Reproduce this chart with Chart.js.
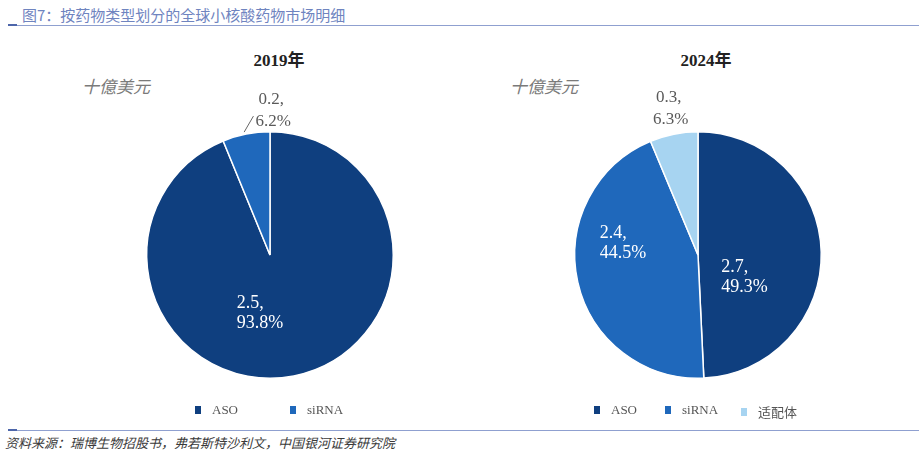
<!DOCTYPE html>
<html><head><meta charset="utf-8">
<script src="https://cdn.jsdelivr.net/npm/chart.js@4"></script>
<style>
html,body{margin:0;padding:0;background:#fff;width:919px;height:455px;overflow:hidden;position:relative;font-family:"Noto Sans CJK SC","Noto Sans",sans-serif;}
.abs{position:absolute;white-space:nowrap;}
#title{left:22px;top:4px;font-size:15px;color:#6f84bf;}
.rule{position:absolute;left:8px;width:911px;height:1px;background:#8fa0d0;}
.tick{position:absolute;left:8px;width:9px;height:2px;background:#4d66aa;}
#footer{left:5px;top:433px;font-size:13px;color:#3a3a3a;font-style:italic;}
.year{font-family:"Liberation Serif","Noto Sans CJK SC",serif;font-weight:bold;font-size:17px;color:#222;transform:translateX(-50%);}
.unit{font-family:"Liberation Serif","Noto Sans CJK TC",serif;font-style:italic;font-size:17px;color:#7a7a7a;}
.leg{position:absolute;font-family:"Liberation Serif","Noto Sans CJK SC",serif;font-size:13px;color:#555;display:flex;align-items:center;}
.leg i{display:inline-block;width:6px;height:8px;margin-right:11px;}
canvas{position:absolute;top:0;}
</style></head>
<body>
<div id="title" class="abs">图7：按药物类型划分的全球小核酸药物市场明细</div>
<div class="rule" style="top:25px"></div><div class="tick" style="top:24px"></div>
<div class="rule" style="top:430px"></div><div class="tick" style="top:429px"></div>
<div id="footer" class="abs">资料来源：瑞博生物招股书，弗若斯特沙利文，中国银河证券研究院</div>

<div class="abs year" style="left:279px;top:46px">2019年</div>
<div class="abs year" style="left:706px;top:46px">2024年</div>
<div class="abs unit" style="left:82px;top:73px">十億美元</div>
<div class="abs unit" style="left:510px;top:73px">十億美元</div>

<canvas id="c1" width="460" height="455" style="left:0;width:460px;height:455px"></canvas>
<canvas id="c2" width="459" height="455" style="left:460px;width:459px;height:455px"></canvas>
<div id="leg1"></div><div id="leg2"></div>

<script>
// ---- data ----
const categories2019 = ['ASO', 'siRNA'];
const values2019 = [2.5, 0.2];        // 十億美元
const shares2019 = [93.8, 6.2];       // %
const categories2024 = ['ASO', 'siRNA', '适配体'];
const values2024 = [2.7, 2.4, 0.3];
const shares2024 = [49.3, 44.5, 6.3];
const colors = ['#0f3f7f', '#1f68bb', '#a7d4f1'];

// ---- layout (not data) ----
const layout = {
  c1: { padding: {left:146, right:66, top:131, bottom:76},
        labels: [ {mode:'in', dx:-22, dy:-2}, {mode:'out', dx:27, dy:-24, leader:true} ],
        legendX: [195, 290] },
  c2: { padding: {left:114, right:97, top:131, bottom:76},
        labels: [ {mode:'in', dx:-15, dy:24}, {mode:'in', dx:-15, dy:-25}, {mode:'out', dx:-3, dy:-26, leader:false} ],
        legendX: [594, 665, 741] }
};

const labelPlugin = {
  id: 'sliceLabels',
  afterDatasetsDraw(chart, args, opts) {
    const ctx = chart.ctx;
    const meta = chart.getDatasetMeta(0);
    const vals = opts.values, shares = chart.data.datasets[0].data;
    meta.data.forEach((arc, i) => {
      const cfg = opts.place[i];
      const p = arc.getProps(['x','y','startAngle','endAngle','outerRadius'], true);
      const mid = (p.startAngle + p.endAngle) / 2;
      let bx, by;
      if (cfg.mode === 'in') {
        const c = arc.tooltipPosition(true);
        bx = c.x; by = c.y;
      } else {
        bx = p.x + Math.cos(mid) * p.outerRadius;
        by = p.y + Math.sin(mid) * p.outerRadius;
      }
      const cx = bx + cfg.dx, cy = by + cfg.dy;
      const l1 = vals[i].toFixed(1) + ',', l2 = shares[i].toFixed(1) + '%';
      ctx.save();
      ctx.font = (cfg.mode === 'in' ? '18px' : '17px') + ' "Liberation Serif", serif';
      ctx.fillStyle = cfg.mode === 'in' ? '#ffffff' : '#5a5a5a';
      const w = Math.max(ctx.measureText(l1).width, ctx.measureText(l2).width);
      const x0 = cx - w / 2;
      ctx.textBaseline = 'middle';
      ctx.textAlign = 'left';
      if (cfg.mode === 'in') {
        ctx.fillText(l1, x0, cy - 10);
        ctx.fillText(l2, x0, cy + 10);
      } else {
        ctx.fillText(l1, x0 + 3, cy - 11);
        ctx.fillText(l2, x0, cy + 11);
      }
      if (cfg.leader) {
        ctx.strokeStyle = '#666';
        ctx.lineWidth = 1;
        ctx.beginPath();
        ctx.moveTo(bx - 2, by - 2);
        ctx.lineTo(x0 - 2, cy + 6);
        ctx.stroke();
      }
      ctx.restore();
    });
  }
};

function makePie(id, cats, shares, vals) {
  const L = layout[id];
  new Chart(document.getElementById(id), {
    type: 'pie',
    data: {
      labels: cats,
      datasets: [{ data: shares, backgroundColor: colors.slice(0, cats.length),
                   borderColor: '#ffffff', borderWidth: 1.5 }]
    },
    options: {
      responsive: false, animation: false,
      layout: { padding: L.padding },
      plugins: { legend: { display: false }, tooltip: { enabled: false },
                 sliceLabels: { values: vals, place: L.labels } }
    },
    plugins: [labelPlugin]
  });
  const legId = id === 'c1' ? 'leg1' : 'leg2';
  const legRoot = document.getElementById(legId);
  cats.forEach((c, i) => {
    const d = document.createElement('div');
    d.className = 'leg';
    d.style.left = L.legendX[i] + 'px';
    d.style.top = '402px';
    d.innerHTML = '<i style="background:' + colors[i] + '"></i><span>' + c + '</span>';
    legRoot.appendChild(d);
  });
}
makePie('c1', categories2019, shares2019, values2019);
makePie('c2', categories2024, shares2024, values2024);
</script>
</body></html>
